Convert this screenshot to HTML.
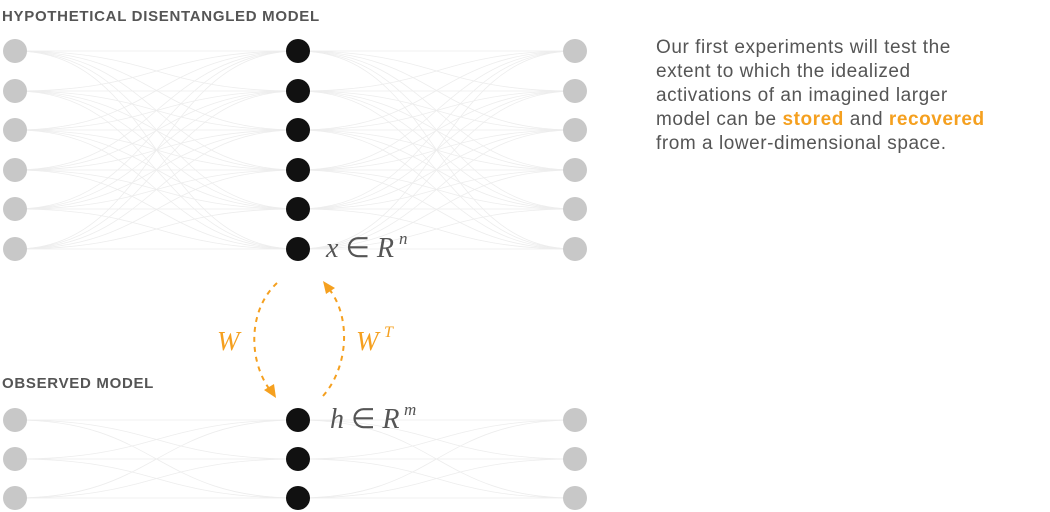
<!DOCTYPE html>
<html><head><meta charset="utf-8"><style>
html,body{margin:0;padding:0;background:#fff;width:1050px;height:512px;overflow:hidden}
.t{position:absolute;left:656px;top:36px;white-space:nowrap;font:19px/24px "Liberation Sans",sans-serif;letter-spacing:0.55px;color:#555}
.o{color:#f5a01f;font-weight:bold}
.h{position:absolute;left:2px;font:bold 15px "Liberation Sans",sans-serif;color:#555;letter-spacing:0.7px}
</style></head><body>
<div class="h" style="top:8px">HYPOTHETICAL DISENTANGLED MODEL</div>
<div class="h" style="top:375px">OBSERVED MODEL</div>
<div class="t">Our first experiments will test the<br>extent to which the idealized<br>activations of an imagined larger<br>model can be <span class="o">stored</span> and <span class="o">recovered</span><br>from a lower-dimensional space.</div>
<svg id="s" width="1050" height="512" style="position:absolute;left:0;top:0">
<g id="e" fill="none" stroke="#ededed" stroke-width="0.8"></g>
<g id="n"></g>
<g fill="none" stroke="#f5a01f" stroke-width="2" stroke-dasharray="5,5">
<path d="M277 283 C 248 310, 248 360, 270 390"/>
<path d="M323 396 C 350 365, 350 315, 329 289"/>
</g>
<polygon points="276,398 264,390 274,384" fill="#f5a01f"/>
<polygon points="323,281 335,288 326,294" fill="#f5a01f"/>
<text x="217" y="350" font-family="Liberation Serif,serif" font-style="italic" font-size="27" fill="#f5a01f">W</text>
<text x="356" y="350" font-family="Liberation Serif,serif" font-style="italic" font-size="27" fill="#f5a01f">W</text>
<text x="384" y="337" font-family="Liberation Serif,serif" font-style="italic" font-size="16" fill="#f5a01f">T</text>
<text x="326" y="257" font-family="Liberation Serif,serif" font-size="28" fill="#555"><tspan font-style="italic">x</tspan> ∈ <tspan font-style="italic">R</tspan></text>
<text x="399" y="244" font-family="Liberation Serif,serif" font-style="italic" font-size="17" fill="#555">n</text>
<text x="330" y="428" font-family="Liberation Serif,serif" font-size="28" fill="#555"><tspan font-style="italic">h</tspan> ∈ <tspan font-style="italic">R</tspan></text>
<text x="404" y="415" font-family="Liberation Serif,serif" font-style="italic" font-size="17" fill="#555">m</text>
</svg>
<script>
var e=document.getElementById('e'),n=document.getElementById('n'),NS='http://www.w3.org/2000/svg';
function p(x1,y1,x2,y2){var m=(x1+x2)/2,q=document.createElementNS(NS,'path');q.setAttribute('d','M'+x1+' '+y1+' C'+m+' '+y1+','+m+' '+y2+','+x2+' '+y2);e.appendChild(q);}
function c(x,y,f){var q=document.createElementNS(NS,'circle');q.setAttribute('cx',x);q.setAttribute('cy',y);q.setAttribute('r',12);q.setAttribute('fill',f);n.appendChild(q);}
var T=[51,91,130,170,209,249],B=[420,459,498];
[T,B].forEach(function(R){R.forEach(function(a){R.forEach(function(b){p(15,a,298,b);p(298,a,575,b);});});
R.forEach(function(y){c(15,y,'#c8c8c8');c(298,y,'#111');c(575,y,'#c8c8c8');});});
</script>
</body></html>
